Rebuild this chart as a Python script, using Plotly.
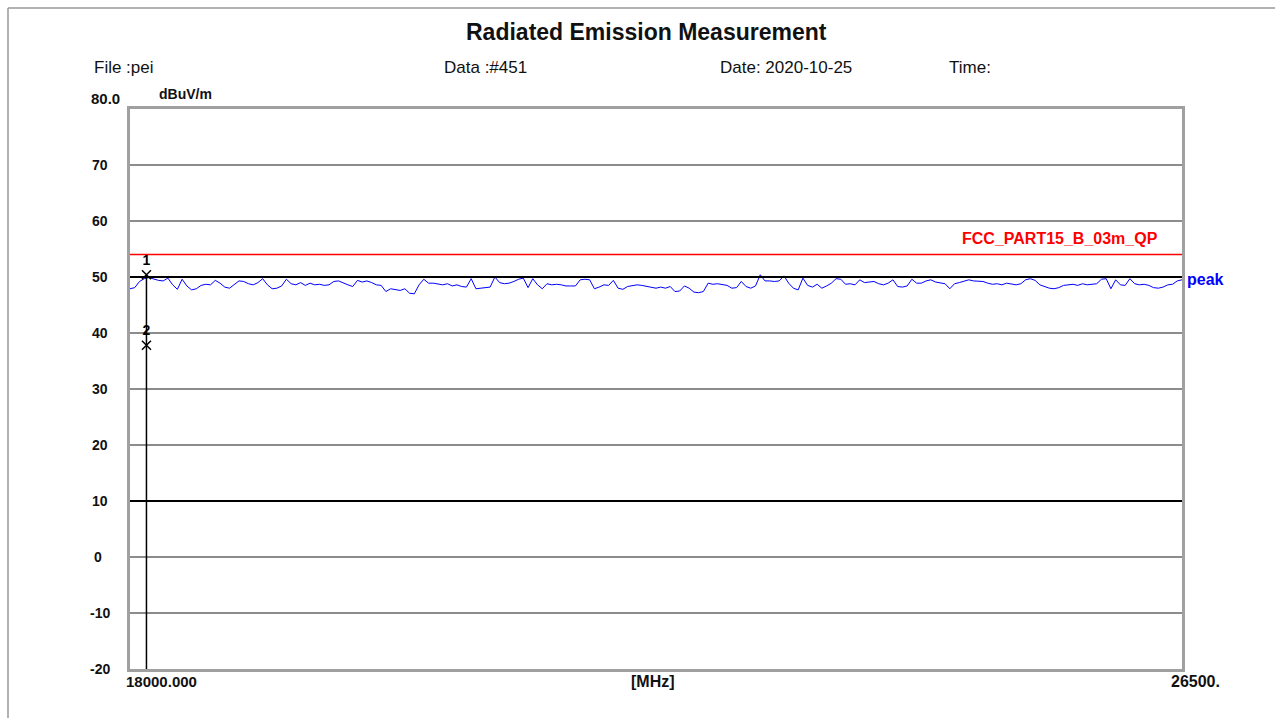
import numpy as np
import plotly.graph_objects as go

# ---------------- data ----------------
f_start, f_stop = 18000.0, 26500.0
peak_seg1 = [47.9, 48.1, 49.2, 49.7, 49.9, 49.6, 49.4, 49.3, 49.8, 48.6, 47.8, 49.6, 48.4, 47.7, 47.9, 48.5,
             48.7, 48.6, 49.4, 48.9, 48.2, 48.0, 48.7, 49.3, 49.2, 48.8, 48.6, 49.0, 49.7, 48.6, 47.9, 48.0,
             48.4, 49.6, 48.8, 48.6, 49.0, 48.5, 48.9, 48.6, 48.7, 48.5, 48.6, 49.2, 49.3, 48.9, 48.6, 48.3,
             49.4, 49.1, 49.3, 49.0, 48.6, 48.5, 47.4, 47.9]
peak_seg2 = [47.8, 47.6, 47.9, 47.1, 47.0, 48.6, 49.6, 48.9, 48.9, 48.7, 48.6, 48.8, 48.4, 48.6, 48.3, 48.2,
             49.7, 47.9, 48.0, 48.1, 48.2, 50.0, 49.0, 48.8, 48.9, 49.2, 49.6, 49.8, 48.1, 49.7, 48.6, 47.9,
             48.8, 48.6, 48.7, 48.6, 48.4, 48.4, 48.4, 49.5, 49.6, 49.5, 47.9, 48.2, 48.6, 48.5, 49.4, 48.0,
             47.8, 48.3, 48.5, 48.6, 48.5, 48.3, 48.1, 48.0]
peak_seg3 = [48.2, 48.0, 48.3, 47.4, 47.5, 48.4, 48.0, 47.3, 47.2, 47.4, 48.9, 48.7, 48.8, 48.6, 48.5, 48.0,
             48.1, 49.2, 48.3, 48.0, 48.4, 50.4, 49.3, 49.3, 49.2, 49.3, 50.2, 48.9, 48.0, 47.7, 49.8, 48.5,
             48.2, 48.7, 48.0, 48.4, 48.9, 49.7, 49.6, 48.7, 48.8, 48.6, 49.5, 49.0, 49.1, 49.2, 48.8, 48.6,
             48.9, 49.5, 48.3, 48.2, 48.4, 49.6, 48.9, 48.9]
peak_seg4 = [49.3, 49.5, 49.1, 48.9, 48.8, 47.9, 48.8, 49.0, 49.2, 49.5, 49.3, 49.3, 49.2, 48.9, 48.7, 48.8,
             48.6, 48.9, 48.7, 48.6, 48.8, 49.5, 49.7, 49.4, 48.6, 48.3, 48.0, 47.9, 48.1, 48.5, 48.6, 48.7,
             48.5, 48.8, 48.6, 48.7, 48.8, 49.6, 49.7, 47.9, 49.5, 48.6, 48.5, 49.7, 48.8, 48.6, 48.7, 48.5,
             48.1, 48.0, 48.2, 48.6, 48.7, 49.3, 49.5]
peak_values = peak_seg1 + peak_seg2 + peak_seg3 + peak_seg4
peak_freqs = np.linspace(f_start, f_stop, len(peak_values))  # sweep points

limit_name = "FCC_PART15_B_03m_QP"
limit_level = 54.0

marker_ids = ["1", "2"]
marker_freqs = [18133.0, 18133.0]
marker_levels = [50.4, 37.8]

y_ticks = [70, 60, 50, 40, 30, 20, 10, 0, -10, -20]
y_tick_text = ["70", "60", "50", "40", "30", "20", "10", "0", "-10", "-20"]
dark_grid = [50, 10]
x_labels = ["18000.000", "[MHz]", "26500."]

title = "Radiated Emission Measurement"
header = [("File :pei", 92), ("Data :#451", 442), ("Date: 2020-10-25", 718), ("Time:", 947)]

# ---------------- layout helpers ----------------
W, H = 1275, 718
L, R, T, B = 130, 1182, 109, 669


def px(x):
    return (x - L) / (R - L)


def py(y):
    return (B - y) / (B - T)


FONT = "Liberation Sans, Arial, sans-serif"

fig = go.Figure()

# limit line
fig.add_trace(go.Scatter(x=[f_start, f_stop], y=[limit_level, limit_level], mode="lines",
                         line=dict(color="#ff0000", width=1.5), hoverinfo="skip", showlegend=False))
# peak trace
fig.add_trace(go.Scatter(x=peak_freqs, y=peak_values, mode="lines",
                         line=dict(color="#0000ff", width=1), showlegend=False))
# marker vertical line
fig.add_trace(go.Scatter(x=[marker_freqs[0], marker_freqs[0]], y=[max(marker_levels), -20], mode="lines",
                         line=dict(color="black", width=1.5), showlegend=False, hoverinfo="skip"))
# markers
fig.add_trace(go.Scatter(x=marker_freqs, y=marker_levels, mode="markers+text",
                         text=["<b>" + m + "</b>" for m in marker_ids], textposition="top center",
                         textfont=dict(family=FONT, size=14, color="black"),
                         marker=dict(symbol="x-thin", size=9, line=dict(color="black", width=1.5)),
                         showlegend=False))

shapes = []
for g in dark_grid:
    shapes.append(dict(type="line", xref="paper", yref="y", x0=0, x1=1, y0=g, y1=g,
                       line=dict(color="black", width=2), layer="above"))
# outer frame (top + left)
shapes.append(dict(type="line", xref="paper", yref="paper", x0=px(8), x1=px(1275), y0=py(8), y1=py(8),
                   line=dict(color="#999999", width=1.5)))
shapes.append(dict(type="line", xref="paper", yref="paper", x0=px(8), x1=px(8), y0=py(8), y1=py(718),
                   line=dict(color="#999999", width=1.5)))

ann = []
ann.append(dict(text="<b>" + title + "</b>", x=px(646), y=py(32), xref="paper", yref="paper",
                showarrow=False, font=dict(family=FONT, size=23, color="#111"), xanchor="center", yanchor="middle"))
for txt, xx in header:
    ann.append(dict(text=txt, x=px(xx), y=py(67), xref="paper", yref="paper", showarrow=False,
                    font=dict(family=FONT, size=17, color="#111"), xanchor="left", yanchor="middle"))
ann.append(dict(text="<b>80.0</b>", x=px(89), y=py(98), xref="paper", yref="paper", showarrow=False,
                font=dict(family=FONT, size=15, color="#111"), xanchor="left", yanchor="middle"))
ann.append(dict(text="<b>dBuV/m</b>", x=px(157), y=py(94), xref="paper", yref="paper", showarrow=False,
                font=dict(family=FONT, size=14, color="#111"), xanchor="left", yanchor="middle"))
for v, t in zip(y_ticks, y_tick_text):
    xx = 88 if t.startswith("-") else (92 if t == "0" else 90)
    ann.append(dict(text="<b>" + t + "</b>", x=px(xx), y=v, xref="paper", yref="y", showarrow=False,
                    font=dict(family=FONT, size=14, color="#111"), xanchor="left", yanchor="middle"))
ann.append(dict(text="<b>" + x_labels[0] + "</b>", x=f_start, y=py(681), xref="x", yref="paper",
                xshift=31, showarrow=False, font=dict(family=FONT, size=15, color="#111"),
                xanchor="center", yanchor="middle"))
ann.append(dict(text="<b>" + x_labels[1] + "</b>", x=px(653), y=py(681), xref="paper", yref="paper",
                showarrow=False, font=dict(family=FONT, size=16, color="#111"),
                xanchor="center", yanchor="middle"))
ann.append(dict(text="<b>" + x_labels[2] + "</b>", x=f_stop, y=py(681), xref="x", yref="paper",
                xshift=13, showarrow=False, font=dict(family=FONT, size=16, color="#111"),
                xanchor="center", yanchor="middle"))
ann.append(dict(text="<b>" + limit_name + "</b>", x=px(1160), y=limit_level, xref="paper", yref="y",
                yshift=16, showarrow=False, font=dict(family=FONT, size=16, color="#ff0000"),
                xanchor="right", yanchor="middle"))
ann.append(dict(text="<b>peak</b>", x=1.0, y=peak_values[-1], xref="paper", yref="y", xshift=3,
                showarrow=False, font=dict(family=FONT, size=16, color="#0000ff"),
                xanchor="left", yanchor="middle"))

fig.update_layout(
    width=W, height=H, autosize=False,
    margin=dict(l=L, r=W - R, t=T, b=H - B, pad=0),
    paper_bgcolor="white", plot_bgcolor="white",
    shapes=shapes, annotations=ann,
    xaxis=dict(range=[f_start, f_stop], showticklabels=False, showgrid=False, zeroline=False,
               showline=True, linecolor="#a0a0a0", linewidth=3, mirror=True, ticks=""),
    yaxis=dict(range=[-20, 80], tickvals=y_ticks, showticklabels=False, showgrid=True,
               gridcolor="#8c8c8c", gridwidth=1.5, zeroline=False,
               showline=True, linecolor="#a0a0a0", linewidth=3, mirror=True, ticks=""),
    showlegend=False,
)

fig.write_html("out.html", config={"displayModeBar": False},
               post_script="document.body.style.margin='0';")
